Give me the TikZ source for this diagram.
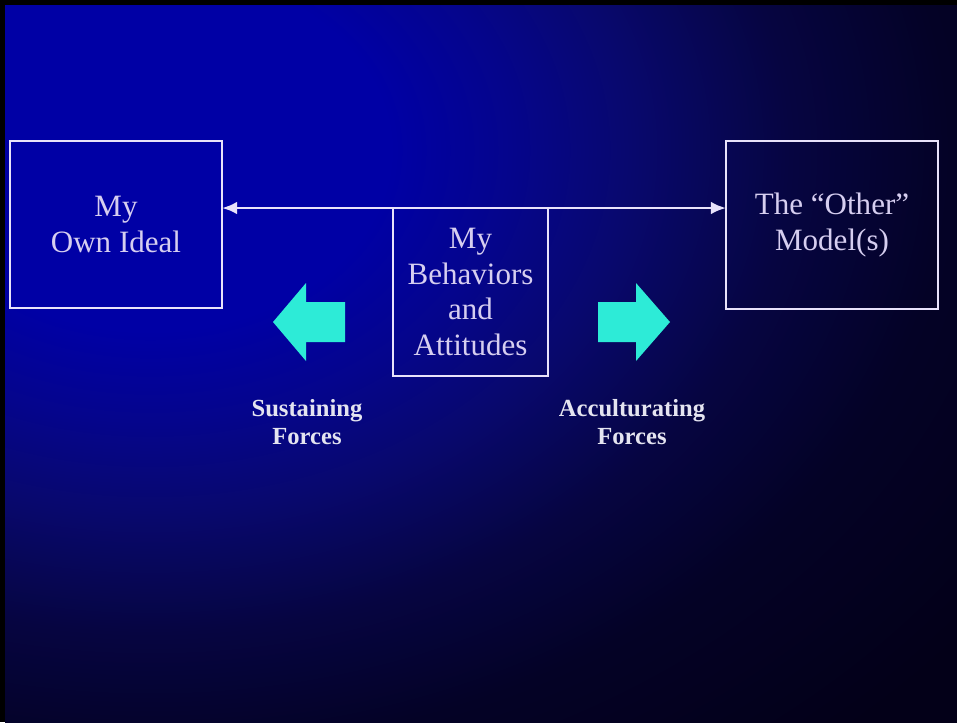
\documentclass[tikz,border=0pt]{standalone}
\usepackage{fontspec}
\setmainfont{Liberation Serif}
\usetikzlibrary{arrows.meta}
\definecolor{bgA}{RGB}{0,0,165}
\definecolor{bgB}{RGB}{5,5,140}
\definecolor{bgC}{RGB}{8,8,110}
\definecolor{bgD}{RGB}{6,5,65}
\definecolor{bgE}{RGB}{4,2,38}
\definecolor{bgF}{RGB}{3,0,24}
\definecolor{boxline}{RGB}{232,226,250}
\definecolor{boxtext}{RGB}{214,206,240}
\definecolor{labeltext}{RGB}{228,228,240}
\definecolor{cyanarr}{RGB}{45,235,215}
\pgfdeclareradialshading{slidebg}{\pgfpoint{0bp}{0bp}}{color(0bp)=(bgA); color(6bp)=(bgA); color(9bp)=(bgB); color(12bp)=(bgC); color(16bp)=(bgD); color(20bp)=(bgE); color(26bp)=(bgF); color(50bp)=(bgF)}
\tikzset{
  ideabox/.style={draw=boxline, line width=2.4pt, inner sep=0pt, outer sep=0pt,
    text=boxtext, align=center, font=\fontsize{26.5}{30.5}\selectfont},
  forcelabel/.style={text=labeltext, align=center, font=\fontsize{21}{23.5}\selectfont\bfseries},
  link/.style={draw=boxline, line width=2.4pt, {Latex[length=13pt,width=11pt]}-{Latex[length=13pt,width=11pt]}},
  forcearrow/.style={fill=cyanarr}
}
\begin{document}
\begin{tikzpicture}[x=0.03cm,y=-0.03cm]
\useasboundingbox (0,0) rectangle (957,722);
\fill[black] (0,0) rectangle (957,722);
\begin{scope}
  \clip (5,5) rectangle (957,722);
  \shade[shading=slidebg] (-850,-604) rectangle (1150,904);
\end{scope}

\node[ideabox, minimum width=212*0.03cm, minimum height=167*0.03cm] (L) at (116,224.5) {My\\Own Ideal};
\node[ideabox, minimum width=212*0.03cm, minimum height=168*0.03cm] (R) at (832,225) {The “Other”\\Model(s)};
\node[ideabox, minimum width=155*0.03cm, minimum height=168*0.03cm] (M) at (470.5,292) {My\\Behaviors\\and\\Attitudes};

\draw[link] (L.east |- M.north) -- (R.west |- M.north);

\fill[forcearrow] (345,302) -- (306,302) -- (306,283) -- (273,322) -- (306,361) -- (306,342) -- (345,342) -- cycle;
\fill[forcearrow] (598,302) -- (636,302) -- (636,283) -- (670,322) -- (636,361) -- (636,342) -- (598,342) -- cycle;

\node[forcelabel] (S) at (307,422) {Sustaining\\Forces};
\node[forcelabel] (A) at (632,422) {Acculturating\\Forces};
\end{tikzpicture}
\end{document}
